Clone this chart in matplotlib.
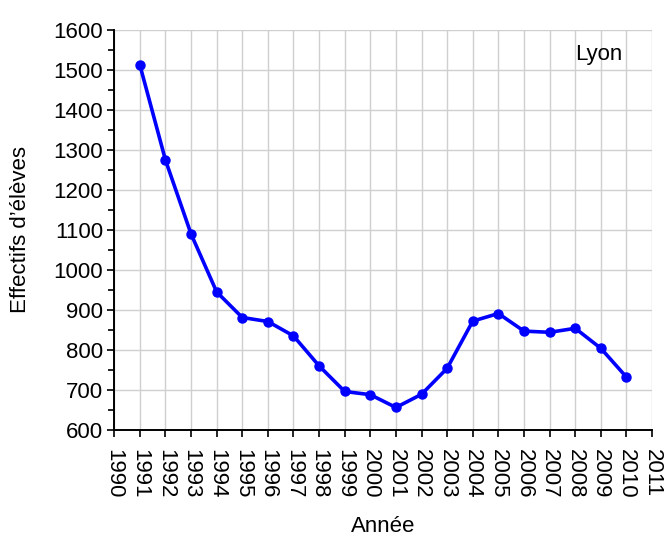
import matplotlib
matplotlib.use('Agg')
import matplotlib.pyplot as plt
from matplotlib.ticker import MultipleLocator

plt.rcParams['font.family'] = ['Liberation Sans', 'DejaVu Sans']

annees = [1991, 1992, 1993, 1994, 1995, 1996, 1997, 1998, 1999, 2000,
          2001, 2002, 2003, 2004, 2005, 2006, 2007, 2008, 2009, 2010]
effectifs = [1513, 1275, 1090, 945, 881, 871, 835, 760, 696, 688,
             656, 689, 754, 872, 891, 847, 844, 854, 804, 732]
xticks = list(range(1990, 2012))

fig = plt.figure(figsize=(6.64, 5.36), dpi=100)
ax = fig.add_axes([0.172, 0.198, 0.81, 0.746])

ax.plot(annees, effectifs, color='#0000ff', linewidth=2.6, marker='o',
        markersize=6.5, zorder=3)

ax.set_xlim(1990, 2011)
ax.set_ylim(600, 1600)
ax.set_xticks(xticks)
ax.set_xticklabels([str(a) for a in xticks], rotation=270, fontsize=16)
ax.yaxis.set_major_locator(MultipleLocator(100))
ax.yaxis.set_minor_locator(MultipleLocator(50))
ax.tick_params(axis='y', labelsize=16, pad=3)
ax.tick_params(axis='x', pad=9)
ax.tick_params(which='major', direction='out', length=5, width=1.2)
ax.tick_params(which='minor', direction='out', length=4, width=1.2)

ax.grid(True, which='major', color='#cfcfcf', linewidth=1)
ax.set_axisbelow(True)
for s in ['top', 'right']:
    ax.spines[s].set_visible(False)
for s in ['left', 'bottom']:
    ax.spines[s].set_linewidth(1.4)

ax.set_xlabel('Année', fontsize=16, labelpad=12)
ax.set_ylabel("Effectifs d\u2019élèves", fontsize=16, labelpad=16)
ax.text(0.945, 0.94, 'Lyon', transform=ax.transAxes, fontsize=16,
        ha='right', va='center')

fig.savefig('out.png', dpi=100)
